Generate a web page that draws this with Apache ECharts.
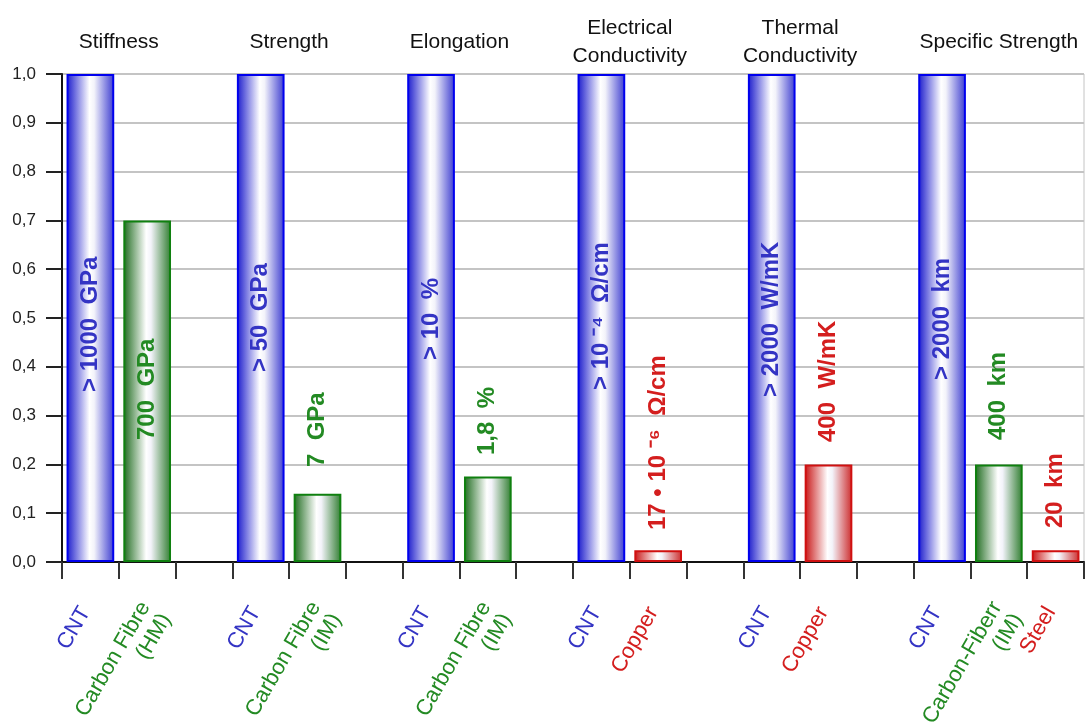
<!DOCTYPE html>
<html>
<head>
<meta charset="utf-8">
<script src="https://cdn.jsdelivr.net/npm/echarts@6/dist/echarts.min.js"></script>
<style>html,body{margin:0;padding:0;background:#fff}#c{width:1085px;height:722px}</style>
</head>
<body>
<div id="c"></div>
<script>
// ---- data ----
const categories = ['CNT','Carbon Fibre\n(HM)','','CNT','Carbon Fibre\n(IM)','','CNT','Carbon Fibre\n(IM)','','CNT','Copper','','CNT','Copper','','CNT','Carbon-Fiberr\n(IM)','Steel'];
const materials  = ['cnt','cf','','cnt','cf','','cnt','cf','','cnt','cu','','cnt','cu','','cnt','cf','cu'];
const values     = [1.0,0.70,null,1.0,0.14,null,1.0,0.175,null,1.0,0.024,null,1.0,0.20,null,1.0,0.20,0.024];
const valueLabels = ['> 1000  GPa','700  GPa','','> 50  GPa','7  GPa','','> 10  %','1,8  %','','> 10 ⁻⁴  Ω/cm','17 • 10 ⁻⁶  Ω/cm','','> 2000  W/mK','400  W/mK','','> 2000  km','400  km','20  km'];
const groupTitles = ['Stiffness','Strength','Elongation','Electrical\nConductivity','Thermal\nConductivity','Specific Strength'];
const groupFirst = [0,3,6,9,12,15];
const groupLast  = [1,4,7,10,13,17];
const yTickLabels = ['0,0','0,1','0,2','0,3','0,4','0,5','0,6','0,7','0,8','0,9','1,0'];

// ---- styles ----
const FONT = '"Liberation Sans", Arial, sans-serif';
const palette = {
  cnt: {edge:'#1a1acc', edge2:'#3a3ad0', border:'#0000ee', text:'#3434c4'},
  cf:  {edge:'#1d6a1d', edge2:'#2f7d2f', border:'#0f800f', text:'#238a23'},
  cu:  {edge:'#c81414', edge2:'#cc2a2a', border:'#d01010', text:'#d41e1e'}
};
const labelLift = [170,122,0,190,95,0,202,107,0,172,32,0,165,120,0,182,122,34];

function grad(p){
  return new echarts.graphic.LinearGradient(0,0,1,0,[
    {offset:0,color:p.edge},{offset:0.48,color:'#ffffff'},{offset:0.58,color:'#f3f3fa'},{offset:1,color:p.edge2}
  ]);
}

const seriesData = values.map((v,i)=>{
  if (v === null) return '-';
  const p = palette[materials[i]];
  return {
    value: v,
    itemStyle: {color: grad(p), borderColor: p.border, borderWidth: 2},
    label: {color: p.text, distance: labelLift[i]}
  };
});

const isMulti = c => c.indexOf('\n') >= 0;
const xData = categories.map((c,i)=>({
  value: c,
  textStyle: {
    color: materials[i] ? palette[materials[i]].text : '#000',
    padding: isMulti(c) ? [0,4,0,0] : [0,10,0,0]
  }
}));

const chart = echarts.init(document.getElementById('c'));
chart.setOption({
  animation: false,
  backgroundColor: '#fff',
  grid: {left: 62, right: 1, top: 74, bottom: 160, outerBoundsMode: 'none', containLabel: false,
         show: true, borderColor: '#c4c4c4', borderWidth: 1},
  xAxis: {
    type: 'category',
    data: xData,
    boundaryGap: true,
    axisLine: {lineStyle: {color: '#111', width: 2}},
    axisTick: {show: true, interval: 0, length: 17, lineStyle: {color: '#333', width: 2}},
    axisLabel: {interval: 0, rotate: 60, margin: 38, fontSize: 22, fontFamily: FONT, lineHeight: 24,
      formatter: v => isMulti(v) ? '\n' + v : v}
  },
  yAxis: {
    type: 'value', min: 0, max: 1, interval: 0.1,
    axisLine: {show: true, lineStyle: {color: '#111', width: 2}},
    axisTick: {show: true, length: 16, lineStyle: {color: '#222', width: 2}},
    axisLabel: {margin: 26, fontSize: 17, fontFamily: FONT, color: '#222',
      formatter: v => yTickLabels[Math.round(v*10)]},
    splitLine: {lineStyle: {color: '#c4c4c4', width: 2}}
  },
  series: [{
    type: 'bar',
    data: seriesData,
    barWidth: '84%',
    label: {
      show: true, position: 'insideBottom', rotate: 90, align: 'left', verticalAlign: 'middle',
      fontSize: 24, fontWeight: 'bold', fontFamily: FONT,
      formatter: p => valueLabels[p.dataIndex]
    }
  }]
});

const gfx = groupTitles.map((t,g)=>{
  const a = chart.convertToPixel({xAxisIndex:0}, groupFirst[g]);
  const b = chart.convertToPixel({xAxisIndex:0}, groupLast[g]);
  return {
    type: 'text', x: (a+b)/2, y: 42,
    style: {text: t, fill: '#111', font: '21px ' + FONT, align: 'center', verticalAlign: 'middle', lineHeight: 28}
  };
});
chart.setOption({graphic: gfx});
</script>
</body>
</html>
